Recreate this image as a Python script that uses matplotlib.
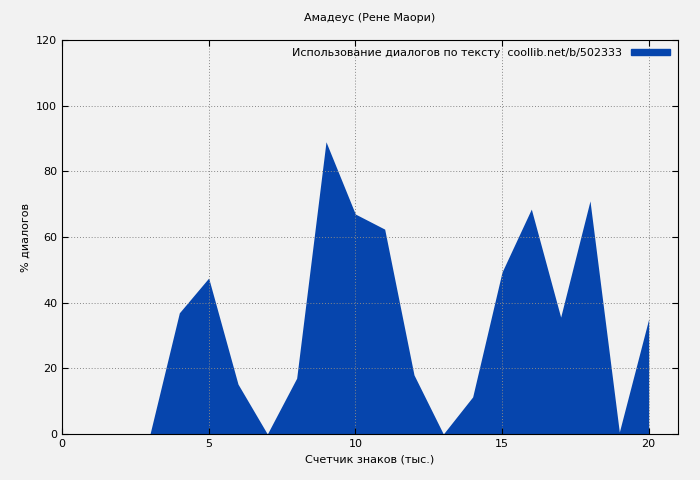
import matplotlib
matplotlib.use("Agg")
import matplotlib.pyplot as plt
import matplotlib.patches as patches

x_vals = list(range(1, 21))
y_vals = [0, 0, 0, 36.9, 47.5, 15.2, 0, 17, 89, 67, 62.4, 18, 0, 11.3, 49.3, 68.5, 35.6, 71, 0.6, 35]

title = "Амадеус (Рене Маори)"
legend_label = "Использование диалогов по тексту  coollib.net/b/502333"
fill_color = "#0645ad"
bg = "#f2f2f2"

plt.rcParams["font.size"] = 8
fig = plt.figure(figsize=(7, 4.8), dpi=100, facecolor=bg)
ax = fig.add_axes([62/700, 46/480, (678-62)/700, (434-40)/480])
ax.set_facecolor(bg)

ax.fill_between(x_vals, y_vals, 0, color=fill_color, linewidth=0)

ax.set_xlim(0, 21)
ax.set_ylim(0, 120)
ax.set_xticks([0, 5, 10, 15, 20])
ax.set_yticks(range(0, 121, 20))
ax.grid(True, linestyle=(0, (1, 2)), color="#888888", linewidth=0.7)
ax.tick_params(direction="in", length=4, top=True, right=True)
ax.set_title(title, fontsize=8, pad=14)
ax.set_xlabel("Счетчик знаков (тыс.)")
ax.set_ylabel("% диалогов")

handle = patches.Patch(color=fill_color, label=legend_label)
leg = ax.legend(handles=[handle], loc="upper right", frameon=False,
                handlelength=3.5, handleheight=0.5, fontsize=8,
                markerfirst=False, borderaxespad=0.3)

fig.savefig("out.png", dpi=100, facecolor=bg)
